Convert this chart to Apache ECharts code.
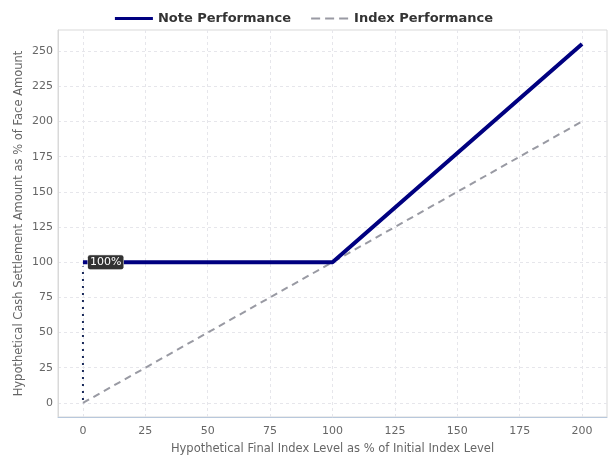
<!DOCTYPE html>
<html><head><meta charset="utf-8">
<script src="https://cdn.jsdelivr.net/npm/echarts@6/dist/echarts.min.js"></script>
<style>html,body{margin:0;padding:0;background:#fff}#c{width:608px;height:465px}</style>
</head><body><div id="c"></div>
<script>
const noteX = [0, 100, 200];
const noteY = [100, 100, 255];
const indexX = [0, 200];
const indexY = [0, 200];
const floorX = [0, 0];
const floorY = [2, 97];
const xTicks = [0, 25, 50, 75, 100, 125, 150, 175, 200];
const yTicks = [0, 25, 50, 75, 100, 125, 150, 175, 200, 225, 250];
const labelText = '100%';

const pairs = (xs, ys) => xs.map((x, i) => [x, ys[i]]);
const FONT = 'DejaVu Sans';
const solidIcon = 'path://M0,0L38,0M0,4L38,4M0,0.5H38V3.5H0Z';
const dashIcon = 'path://M0,0L38,0M0,4L38,4M0,1H9V3H0Z M14,1H23V3H14Z M28,1H37V3H28Z';
const chart = echarts.init(document.getElementById('c'), null, {renderer: 'canvas'});
chart.setOption({
  animation: false,
  textStyle: {fontFamily: FONT},
  legend: {
    top: 7, left: 'center',
    itemWidth: 38, itemHeight: 4, itemGap: 20,
    textStyle: {fontFamily: FONT, fontSize: 13, fontWeight: 'bold', color: '#333'},
    data: [
      {name: 'Note Performance', icon: solidIcon},
      {name: 'Index Performance', icon: dashIcon}
    ]
  },
  grid: {left: 58, right: 1, top: 30, bottom: 48, show: true, borderColor: '#d9d9d9', borderWidth: 1, containLabel: false},
  xAxis: {
    type: 'value', min: -10, max: 210,
    name: 'Hypothetical Final Index Level as % of Initial Index Level',
    nameLocation: 'middle', nameGap: 26, nameMoveOverlap: false,
    nameTextStyle: {fontFamily: FONT, fontSize: 11.5, color: '#666'},
    axisLine: {show: true, onZero: false, lineStyle: {color: '#b8c8dc'}},
    axisTick: {show: false, customValues: xTicks},
    axisLabel: {customValues: xTicks, fontFamily: FONT, fontSize: 11, color: '#666', margin: 9},
    splitLine: {show: true, lineStyle: {color: '#e6e6eb', type: [3, 3]}}
  },
  yAxis: {
    type: 'value', min: -10, max: 265,
    name: 'Hypothetical Cash Settlement Amount as % of Face Amount',
    nameLocation: 'middle', nameGap: 33, nameMoveOverlap: false,
    nameTextStyle: {fontFamily: FONT, fontSize: 11.5, color: '#666'},
    axisLine: {show: true, onZero: false, lineStyle: {color: '#d9d9d9'}},
    axisTick: {show: false, customValues: yTicks},
    axisLabel: {customValues: yTicks, fontFamily: FONT, fontSize: 11, color: '#666', margin: 5},
    splitLine: {show: true, lineStyle: {color: '#e6e6eb', type: [3, 3]}}
  },
  series: [
    {
      name: 'Index Performance', type: 'line', data: pairs(indexX, indexY),
      symbol: 'none', lineStyle: {color: '#999aa3', width: 2, type: [7, 5]}, itemStyle: {color: '#999aa3'}, z: 2
    },
    {
      name: 'floor', type: 'line', data: pairs(floorX, floorY),
      symbol: 'none', lineStyle: {color: '#1a2a5a', width: 2, type: [2, 5]}, z: 3, silent: true
    },
    {
      name: 'Note Performance', type: 'line', data: pairs(noteX, noteY),
      symbol: 'none', lineStyle: {color: '#000080', width: 4}, itemStyle: {color: '#000080'}, z: 4,
      markPoint: {
        symbol: 'circle', symbolSize: 0,
        data: [{coord: [noteX[0], noteY[0]], value: labelText}],
        label: {show: true, position: 'right', distance: 5, formatter: labelText,
          fontFamily: FONT, fontSize: 11, color: '#fff', backgroundColor: '#333',
          borderColor: '#ddd', borderWidth: 0.5, borderRadius: 2, padding: [2, 2, 1, 2]}
      }
    }
  ]
});
</script></body></html>
